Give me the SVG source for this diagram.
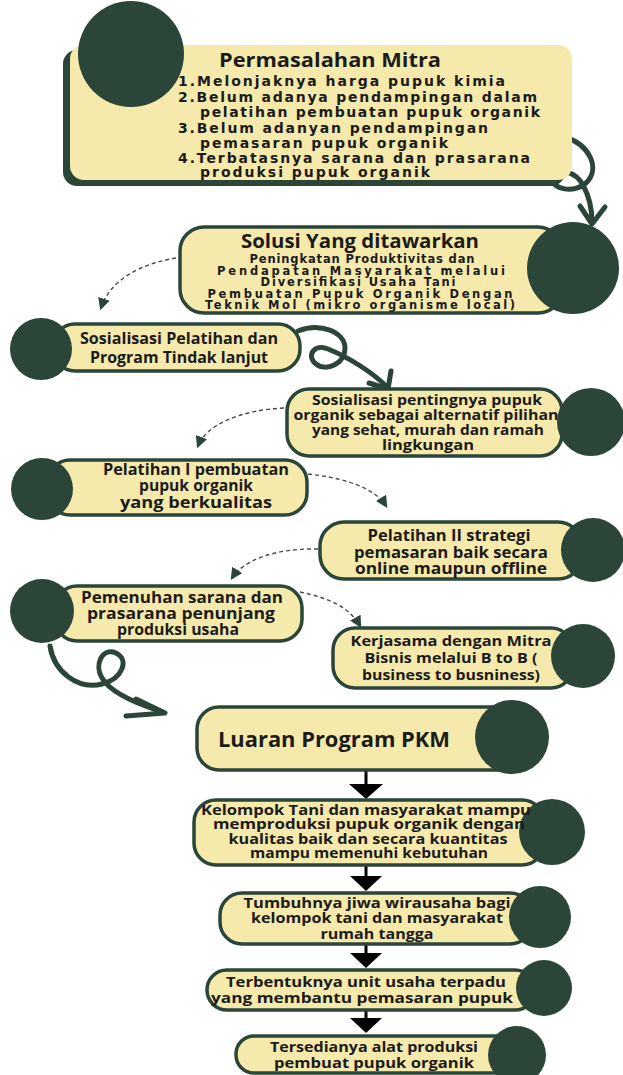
<svg xmlns="http://www.w3.org/2000/svg" width="623" height="1075" viewBox="0 0 623 1075">
<defs>
<style>
.box{fill:#f5e9ab;stroke:#2b4538;stroke-width:3.5}
.dot{fill:#2b4538}
.t{font-family:"Open Sans","Liberation Sans",sans-serif;font-weight:700;fill:#1b1b1b;text-anchor:middle}
.m{font-family:"DejaVu Sans","Liberation Sans",sans-serif;font-weight:700;fill:#1b1b1b}
.dash{fill:none;stroke:#4a4a4a;stroke-width:1.4;stroke-dasharray:4 3}
.swirl{fill:none;stroke:#2b4538;stroke-width:5;stroke-linecap:round;stroke-linejoin:round}
.blk{stroke:#000;stroke-width:3}
</style>
<marker id="dh" viewBox="0 0 10 10" refX="8" refY="5" markerWidth="12" markerHeight="12" markerUnits="userSpaceOnUse" orient="auto">
<path d="M0,0 L10,5 L0,10 z" fill="#2b4538"/>
</marker>
</defs>
<rect width="623" height="1075" fill="#ffffff"/>

<g id="connectors">
<path class="swirl" d="M565,137 C590,145 600,168 587,182 C576,194 550,190 552,177 C555,165 576,172 583,185 C589,196 592,208 592,222"/>
<polyline class="swirl" points="580,206 592,224 605,207"/>
<path class="dash" d="M176,258 C140,264 110,280 101,308" marker-end="url(#dh)"/>
<path class="swirl" d="M298,331 C320,322 345,332 345,348 C345,364 326,372 316,364 C306,356 314,343 328,349 C348,357 372,372 386,386"/>
<polyline class="swirl" points="369,383 388,389 391,371"/>
<path class="dash" d="M284,408 C240,410 206,425 198,446" marker-end="url(#dh)"/>
<path class="dash" d="M308,474 C345,478 375,488 386,506" marker-end="url(#dh)"/>
<path class="dash" d="M318,549 C280,548 245,558 232,578" marker-end="url(#dh)"/>
<path class="dash" d="M300,592 C330,598 350,608 360,626" marker-end="url(#dh)"/>
<path class="swirl" d="M50,646 C54,672 78,690 102,684 C122,679 130,660 116,653 C102,647 94,665 102,678 C110,692 135,703 160,711"/>
<polyline class="swirl" points="136,699 165,713 126,716"/>
<line class="blk" x1="366" y1="770" x2="366" y2="786"/>
<polygon points="349,784 383,784 366,799" fill="#000"/>
<line class="blk" x1="366" y1="866" x2="366" y2="878"/>
<polygon points="350,876 382,876 366,891" fill="#000"/>
<line class="blk" x1="366" y1="944" x2="366" y2="955"/>
<polygon points="350,953 382,953 366,968" fill="#000"/>
<line class="blk" x1="366" y1="1010" x2="366" y2="1020"/>
<polygon points="350,1018 382,1018 366,1033" fill="#000"/>
</g>

<g id="n-permasalahan">
<rect x="63" y="50" width="502" height="136" rx="14" fill="#2b4538"/>
<rect x="70" y="45" width="502" height="135" rx="14" fill="#f5e9ab"/>
<circle class="dot" cx="131" cy="54" r="53"/>
<text class="t" x="330" y="67" font-size="20" textLength="222" lengthAdjust="spacingAndGlyphs">Permasalahan Mitra</text>
<text class="m" x="178" y="86" font-size="14" textLength="327" lengthAdjust="spacing">1.Melonjaknya harga pupuk kimia</text>
<text class="m" x="178" y="102" font-size="14" textLength="359" lengthAdjust="spacing">2.Belum adanya pendampingan dalam</text>
<text class="m" x="200" y="117" font-size="14" textLength="340" lengthAdjust="spacing">pelatihan pembuatan pupuk organik</text>
<text class="m" x="178" y="133" font-size="14" textLength="310" lengthAdjust="spacing">3.Belum adanyan pendampingan</text>
<text class="m" x="200" y="148" font-size="14" textLength="248" lengthAdjust="spacing">pemasaran pupuk organik</text>
<text class="m" x="178" y="163" font-size="14" textLength="352" lengthAdjust="spacing">4.Terbatasnya sarana dan prasarana</text>
<text class="m" x="200" y="177" font-size="14" textLength="230" lengthAdjust="spacing">produksi pupuk organik</text>
</g>

<g id="n-solusi">
<rect class="box" x="180" y="227" width="382" height="86" rx="24" stroke-width="4"/>
<circle class="dot" cx="573" cy="268" r="46"/>
<text class="t" x="360" y="248" font-size="19" textLength="238" lengthAdjust="spacingAndGlyphs">Solusi Yang ditawarkan</text>
<text class="m" x="362" y="263" font-size="11.5" text-anchor="middle" textLength="225" lengthAdjust="spacing">Peningkatan Produktivitas dan</text>
<text class="m" x="361" y="275" font-size="11.5" text-anchor="middle" textLength="288" lengthAdjust="spacing">Pendapatan Masyarakat melalui</text>
<text class="m" x="358" y="286" font-size="11.5" text-anchor="middle" textLength="195" lengthAdjust="spacing">Diversifikasi Usaha Tani</text>
<text class="m" x="360" y="298" font-size="11.5" text-anchor="middle" textLength="305" lengthAdjust="spacing">Pembuatan Pupuk Organik Dengan</text>
<text class="m" x="360" y="309" font-size="11.5" text-anchor="middle" textLength="310" lengthAdjust="spacing">Teknik Mol (mikro organisme local)</text>
</g>

<g id="n-sosialisasi1">
<rect class="box" x="53" y="324" width="247" height="47" rx="22"/>
<circle class="dot" cx="41" cy="349" r="31"/>
<text class="t" x="179" y="344" font-size="16" textLength="198" lengthAdjust="spacingAndGlyphs">Sosialisasi Pelatihan dan</text>
<text class="t" x="179" y="363" font-size="16" textLength="178" lengthAdjust="spacingAndGlyphs">Program Tindak lanjut</text>
</g>

<g id="n-sosialisasi2">
<rect class="box" x="287" y="389" width="275" height="67" rx="22"/>
<circle class="dot" cx="591" cy="422" r="34"/>
<text class="t" x="427" y="405" font-size="15" textLength="230" lengthAdjust="spacingAndGlyphs">Sosialisasi pentingnya  pupuk</text>
<text class="t" x="426" y="420" font-size="15" textLength="265" lengthAdjust="spacingAndGlyphs">organik sebagai alternatif pilihan</text>
<text class="t" x="428" y="435" font-size="15" textLength="232" lengthAdjust="spacingAndGlyphs">yang sehat, murah dan ramah</text>
<text class="t" x="428" y="450" font-size="15" textLength="92" lengthAdjust="spacingAndGlyphs">lingkungan</text>
</g>

<g id="n-pelatihan1">
<rect class="box" x="48" y="460" width="259" height="55" rx="22"/>
<circle class="dot" cx="42" cy="489" r="31"/>
<text class="t" x="196" y="475" font-size="15.5" textLength="186" lengthAdjust="spacingAndGlyphs">Pelatihan I pembuatan</text>
<text class="t" x="196" y="491" font-size="15.5" textLength="114" lengthAdjust="spacingAndGlyphs">pupuk organik</text>
<text class="t" x="196" y="508" font-size="15.5" textLength="152" lengthAdjust="spacingAndGlyphs">yang berkualitas</text>
</g>

<g id="n-pelatihan2">
<rect class="box" x="320" y="522" width="262" height="57" rx="24"/>
<circle class="dot" cx="593" cy="550" r="32"/>
<text class="t" x="449" y="541" font-size="15.5" textLength="163" lengthAdjust="spacingAndGlyphs">Pelatihan II strategi</text>
<text class="t" x="451" y="558" font-size="15.5" textLength="194" lengthAdjust="spacingAndGlyphs">pemasaran baik secara</text>
<text class="t" x="451" y="574" font-size="15.5" textLength="192" lengthAdjust="spacingAndGlyphs">online maupun offline</text>
</g>

<g id="n-pemenuhan">
<rect class="box" x="55" y="586" width="247" height="55" rx="22"/>
<circle class="dot" cx="42" cy="611" r="32"/>
<text class="t" x="182" y="603" font-size="15.5" textLength="202" lengthAdjust="spacingAndGlyphs">Pemenuhan sarana dan</text>
<text class="t" x="181" y="619" font-size="15.5" textLength="188" lengthAdjust="spacingAndGlyphs">prasarana penunjang</text>
<text class="t" x="178" y="635" font-size="15.5" textLength="122" lengthAdjust="spacingAndGlyphs">produksi usaha</text>
</g>

<g id="n-kerjasama">
<rect class="box" x="333" y="628" width="240" height="60" rx="22"/>
<circle class="dot" cx="583" cy="656" r="32"/>
<text class="t" x="451" y="646" font-size="15" textLength="201" lengthAdjust="spacingAndGlyphs">Kerjasama dengan Mitra</text>
<text class="t" x="451" y="663" font-size="15" textLength="173" lengthAdjust="spacingAndGlyphs">Bisnis melalui B to B (</text>
<text class="t" x="451" y="680" font-size="15" textLength="178" lengthAdjust="spacingAndGlyphs">business to busniness)</text>
</g>

<g id="n-luaran">
<rect class="box" x="197" y="707" width="335" height="63" rx="22"/>
<circle class="dot" cx="512" cy="737" r="37"/>
<text x="218" y="747" style="font-family:'Open Sans','Liberation Sans',sans-serif;font-weight:700;font-size:22px;fill:#1b1b1b;text-anchor:start" textLength="232" lengthAdjust="spacingAndGlyphs">Luaran Program PKM</text>
</g>

<g id="n-kelompok">
<rect class="box" x="194" y="800" width="350" height="65" rx="22"/>
<circle class="dot" cx="552" cy="832" r="33"/>
<text class="t" x="366" y="815" font-size="14.5" textLength="330" lengthAdjust="spacingAndGlyphs">Kelompok Tani dan masyarakat mampu</text>
<text class="t" x="369" y="829" font-size="14.5" textLength="312" lengthAdjust="spacingAndGlyphs">memproduksi pupuk organik dengan</text>
<text class="t" x="368" y="844" font-size="14.5" textLength="279" lengthAdjust="spacingAndGlyphs">kualitas baik dan secara kuantitas</text>
<text class="t" x="369" y="858" font-size="14.5" textLength="238" lengthAdjust="spacingAndGlyphs">mampu memenuhi kebutuhan</text>
</g>

<g id="n-tumbuhnya">
<rect class="box" x="220" y="893" width="312" height="51" rx="22"/>
<circle class="dot" cx="540" cy="917" r="31"/>
<text class="t" x="377" y="908" font-size="15" textLength="267" lengthAdjust="spacingAndGlyphs">Tumbuhnya jiwa wirausaha bagi</text>
<text class="t" x="377" y="923" font-size="15" textLength="252" lengthAdjust="spacingAndGlyphs">kelompok tani dan masyarakat</text>
<text class="t" x="377" y="939" font-size="15" textLength="113" lengthAdjust="spacingAndGlyphs">rumah tangga</text>
</g>

<g id="n-terbentuknya">
<rect class="box" x="207" y="970" width="328" height="40" rx="20"/>
<circle class="dot" cx="544" cy="988" r="28"/>
<text class="t" x="366" y="987" font-size="15" textLength="280" lengthAdjust="spacingAndGlyphs">Terbentuknya unit usaha terpadu</text>
<text class="t" x="362" y="1003" font-size="15" textLength="302" lengthAdjust="spacingAndGlyphs">yang membantu pemasaran pupuk</text>
</g>

<g id="n-tersedianya">
<rect class="box" x="236" y="1036" width="282" height="37" rx="18"/>
<circle class="dot" cx="517" cy="1055" r="29"/>
<text class="t" x="374" y="1052" font-size="15" textLength="208" lengthAdjust="spacingAndGlyphs">Tersedianya alat produksi</text>
<text class="t" x="374" y="1068" font-size="15" textLength="200" lengthAdjust="spacingAndGlyphs">pembuat pupuk organik</text>
</g>
</svg>
